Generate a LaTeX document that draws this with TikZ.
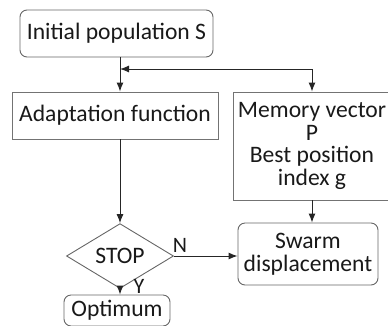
\documentclass[tikz,border=0pt]{standalone}
\usepackage{fontspec}
\setmainfont{Carlito}
\usetikzlibrary{shapes.geometric,arrows.meta}
\begin{document}
\begin{tikzpicture}[x=1pt,y=-1pt,
  every node/.style={font=\fontsize{23.6}{22.8}\selectfont, text=black!90, inner sep=0pt, align=center},
  rbox/.style={draw=black!60, line width=0.9pt, rounded corners=7pt},
  sbox/.style={draw=black!55, line width=0.9pt},
  conn/.style={draw=black!85, line width=1pt},
  arr/.style={conn, -{Latex[length=9pt,width=7pt]}},
  lbl/.style={font=\fontsize{22}{22}\selectfont}
]
\useasboundingbox (0,0) rectangle (388,325);
\clip (0,0) rectangle (388,325);
\node[rbox, minimum width=193pt, minimum height=47pt] (init) at (116.5,33.5) {Initial population S};
\node[sbox, minimum width=206pt, minimum height=47pt] (adapt) at (115,115.5) {Adaptation function};
\node[sbox, minimum width=158pt, minimum height=108pt] (mem) at (312,146) {Memory vector\\P\\Best position\\index g};
\node[rbox, minimum width=140pt, minimum height=62pt] (swarm) at (308,254) {Swarm\\displacement};
\node[draw=black!60, line width=0.9pt, diamond, minimum width=107pt, minimum height=46pt] (stop) at (120,256) {STOP};
\node[rbox, minimum width=106pt, minimum height=31pt] (opt) at (117,310.5) {Optimum};
\coordinate (j) at (120,69);
\draw[arr] (init.south -| j) -- (adapt.north -| j);
\draw[conn, {Latex[length=9pt,width=7pt]}-{Latex[length=9pt,width=7pt]}] (j) -| (mem.north);
\draw[arr] (adapt.south -| j) -- (stop.north);
\draw[arr] (mem.south) -- (mem.south |- swarm.north);
\draw[arr] (stop.east) -- (stop.east -| swarm.west);
\draw[arr] (stop.south) -- (stop.south |- opt.north);
\node[lbl] (n) at (180,245) {N};
\node[lbl] (y) at (139,286) {Y};
\end{tikzpicture}
\end{document}
